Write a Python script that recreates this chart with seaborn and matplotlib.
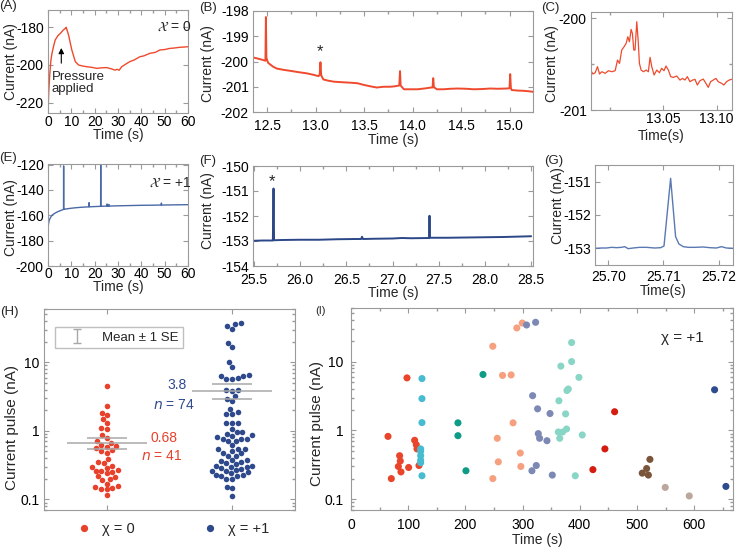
import numpy as np
import pandas as pd
import matplotlib
matplotlib.use("Agg")
import matplotlib.pyplot as plt
import seaborn as sns
from matplotlib.lines import Line2D
from matplotlib.collections import LineCollection
from matplotlib.container import ErrorbarContainer
from matplotlib.ticker import MultipleLocator, FormatStrFormatter, NullFormatter, FixedLocator

# ---------------- data ----------------
# (A) chi = 0, long trace
A_time = [0, 0.3, 0.7, 1.2, 1.7, 2.5, 3.1, 4.2, 5.3, 6.5, 7.5, 7.8, 8.8, 10.2, 11.7, 13.1, 15, 16.6,
          19, 20.9, 23, 25.2, 27, 28.7, 29.7, 30.5, 31.6, 33, 35.1, 37, 39.4, 41, 43.7, 46, 48, 50,
          52.2, 54, 56.5, 58, 60]
A_curr = [-225, -215, -206, -198, -193.8, -189.5, -186.7, -184.5, -183.2, -181.5, -180.5, -180,
          -184, -192, -198.2, -200, -200.6, -200.9, -201.3, -201.8, -201.5, -201.4, -202, -202.7,
          -202.3, -202.8, -200.9, -199.8, -198.2, -197.3, -195.6, -195.2, -193.8, -193.3, -192,
          -191.8, -191.2, -191, -190.6, -190.5, -190.3]

# (B) chi = 0, zoom
B_time = [12.356, 12.40, 12.44, 12.483, 12.488, 12.493, 12.51, 12.56, 12.60, 12.67, 12.74, 12.82,
          12.91, 12.97, 13.03, 13.042, 13.05, 13.058, 13.08, 13.13, 13.19, 13.27, 13.36, 13.43,
          13.50, 13.56, 13.63, 13.70, 13.77, 13.82, 13.862, 13.870, 13.876, 13.91, 13.98, 14.05,
          14.12, 14.19, 14.205, 14.212, 14.219, 14.25, 14.32, 14.39, 14.46, 14.55, 14.63, 14.72,
          14.80, 14.88, 14.97, 14.998, 15.005, 15.012, 15.02, 15.08, 15.14, 15.20, 15.24]
B_curr = [-199.84, -199.88, -199.92, -199.97, -198.24, -199.85, -200.05, -200.2, -200.28, -200.33,
          -200.37, -200.42, -200.47, -200.52, -200.58, -200.52, -200.03, -200.55, -200.71, -200.76,
          -200.80, -200.82, -200.84, -200.86, -200.93, -200.98, -201.03, -201.0, -201.0, -200.98,
          -200.95, -200.38, -200.95, -201.1, -201.1, -201.1, -201.07, -201.03, -201.03, -200.66,
          -201.02, -201.1, -201.1, -201.08, -201.07, -201.08, -201.1, -201.09, -201.07, -201.08,
          -201.07, -201.06, -200.5, -201.05, -201.13, -201.15, -201.16, -201.18, -201.2]

# (C) chi = 0, single event
C_time = [12.9819, 12.9838, 12.9859, 12.9881, 12.9900, 12.9922, 12.9953, 12.9984, 13.0016, 13.0047,
          13.0069, 13.0088, 13.0109, 13.0131, 13.0150, 13.0166, 13.0181, 13.0197, 13.0209, 13.0222,
          13.0234, 13.0250, 13.0263, 13.0275, 13.0291, 13.0313, 13.0338, 13.0359, 13.0375, 13.0391,
          13.0413, 13.0438, 13.0463, 13.0484, 13.0506, 13.0525, 13.0547, 13.0569, 13.0594, 13.0625,
          13.0656, 13.0681, 13.0703, 13.0725, 13.0750, 13.0775, 13.0797, 13.0819, 13.0844, 13.0875,
          13.0900, 13.0922, 13.0944, 13.0969, 13.0994, 13.1016, 13.1047, 13.1069, 13.1094, 13.1119,
          13.1141]
C_curr = [-200.571, -200.607, -200.593, -200.527, -200.607, -200.582, -200.600, -200.571, -200.582,
          -200.571, -200.455, -200.491, -200.345, -200.309, -200.273, -200.200, -200.255, -200.120,
          -200.164, -200.345, -200.345, -200.036, -200.236, -200.491, -200.564, -200.582, -200.564,
          -200.582, -200.425, -200.527, -200.618, -200.564, -200.593, -200.545, -200.571, -200.520,
          -200.564, -200.636, -200.644, -200.629, -200.673, -200.655, -200.673, -200.636, -200.691,
          -200.673, -200.665, -200.727, -200.680, -200.662, -200.709, -200.753, -200.691, -200.673,
          -200.655, -200.691, -200.709, -200.727, -200.691, -200.673, -200.665]

# (E) chi = +1, long trace
E_time = [0, 0.2, 0.5, 1, 1.5, 2, 3, 4, 5, 6, 6.65, 6.7, 6.75, 8, 10, 12, 14, 17.5, 17.6, 17.7, 20,
          22.55, 22.6, 22.65, 25.2, 25.3, 25.4, 26, 26.1, 26.2, 30, 35, 40, 45, 48.5, 48.6, 48.7,
          52, 56, 60]
E_curr = [-172, -167, -164, -162, -160.5, -159.5, -158.3, -157.3, -156.5, -155.8, -155.4, -121,
          -155.3, -154.9, -154.4, -154, -153.7, -153.3, -150, -153.3, -153.1, -152.9, -119.5,
          -152.9, -152.7, -151, -152.7, -152.7, -151.5, -152.7, -152.5, -152.3, -152.1, -152,
          -151.9, -150.3, -151.9, -151.8, -151.7, -151.6]

# (F) chi = +1, zoom
F_time = [25.5, 25.6, 25.705, 25.712, 25.718, 25.8, 26.0, 26.2, 26.4, 26.6, 26.66, 26.67, 26.68,
          26.8, 27.0, 27.1, 27.2, 27.395, 27.40, 27.405, 27.6, 27.8, 28.0, 28.2, 28.4, 28.5]
F_curr = [-152.99, -152.98, -152.98, -150.9, -152.97, -152.96, -152.95, -152.95, -152.93, -152.92,
          -152.92, -152.83, -152.92, -152.91, -152.9, -152.88, -152.89, -152.88, -151.99, -152.87,
          -152.87, -152.86, -152.85, -152.84, -152.82, -152.81]

# (G) chi = +1, single event
G_time = [25.6976, 25.6988, 25.6997, 25.7006, 25.7015, 25.7024, 25.7030, 25.7036, 25.7045, 25.7057,
          25.7069, 25.7084, 25.7095, 25.7101, 25.7113, 25.7122, 25.7128, 25.7136, 25.7145, 25.7157,
          25.7172, 25.7184, 25.7196, 25.7205, 25.7214, 25.7226]
G_curr = [-153.00, -152.99, -152.99, -152.97, -152.98, -152.97, -152.95, -153.01, -152.99, -152.97,
          -152.97, -152.99, -152.98, -152.93, -150.90, -152.65, -152.87, -152.95, -152.97, -152.97,
          -152.96, -152.98, -152.99, -152.95, -152.99, -153.00]

# (H) chi = 0 current pulses (nA)
H_chi0 = [4.5, 2.3, 1.8, 1.7, 1.5, 1.3, 1.1, 1.05, 0.88, 0.78, 0.70, 0.66, 0.62, 0.60, 0.58, 0.56,
          0.53, 0.50, 0.48, 0.39, 0.35, 0.34, 0.31, 0.30, 0.29, 0.27, 0.26, 0.26, 0.25, 0.24, 0.22,
          0.21, 0.20, 0.19, 0.17, 0.155, 0.15, 0.145, 0.14, 0.14, 0.115]
H_chi1_extra = [0.48, 0.33]
H_groups = ["χ = 0", "χ = +1"]

# (I) chi = +1 pulses vs time, one list per series
I_t_red = [64.7, 70.5, 97.9, 82.8, 85.0, 86.2, 87.4, 100.8, 111.3, 114.2, 115.4, 118.9]
I_v_red = [0.82, 0.20, 5.8, 0.30, 0.43, 0.36, 0.25, 0.29, 0.72, 0.62, 0.54, 0.31]
I_t_cyan = [124.1, 124.1, 124.1, 121.8, 121.8, 121.8, 121.8, 121.8, 124.1]
I_v_cyan = [5.67, 2.9, 1.3, 0.54, 0.50, 0.43, 0.37, 0.34, 0.22]
I_t_teal = [230.8, 187.0, 187.0, 201.0]
I_v_teal = [6.5, 1.29, 0.84, 0.26]
I_t_salmon = [248.0, 299.5, 290.0, 265.0, 280.0, 283.4, 255.8, 257.6, 296.0, 297.0, 248.0]
I_v_salmon = [16.7, 36.3, 30.8, 6.3, 6.4, 1.29, 0.77, 0.35, 0.47, 0.30, 0.20]
I_t_slate = [307.0, 322.8, 317.6, 326.3, 348.0, 327.5, 329.8, 342.7, 316.4, 324.0, 352.0]
I_v_slate = [34.0, 37.2, 3.2, 2.06, 1.76, 0.90, 0.77, 0.71, 0.26, 0.31, 0.225]
I_t_aqua = [385.8, 385.8, 367.0, 398.6, 380.0, 377.6, 363.6, 375.3, 377.0, 362.5, 370.0, 365.0,
            404.4, 392.2]
I_v_aqua = [18.9, 10.0, 8.6, 5.9, 4.0, 3.8, 2.7, 1.74, 1.05, 0.95, 0.95, 0.77, 0.86, 0.22]
I_t_crimson = [423.0, 444.0, 461.0]
I_v_crimson = [0.27, 0.54, 1.87]
I_t_brown = [509.3, 517.0, 520.0, 522.7]
I_v_brown = [0.24, 0.28, 0.225, 0.38]
I_t_tan = [549.5, 591.5]
I_v_tan = [0.149, 0.112]
I_t_navy = [635.8, 655.6]
I_v_navy = [3.9, 0.154]

I_names = ["s1", "s2", "s3", "s4", "s5", "s6", "s7", "s8", "s9", "s10"]
I_colors = ["#e9452b", "#47bcd0", "#0e9c86", "#f6a080", "#7d89b5",
            "#8ad6c6", "#d41c10", "#7b5539", "#bba79e", "#2e4b8e"]

RED = "#ef4a2e"
GRAY = "#a8a8a8"
FRAME = "#9a9a9a"
H_colors = ["#e8412c", "#2f4a8c"]

# ---------------- style ----------------
sns.set_theme(style="ticks")
plt.rcParams["font.family"] = ["Liberation Sans", "DejaVu Sans"]
plt.rcParams.update({
    "axes.edgecolor": FRAME, "axes.linewidth": 0.8,
    "xtick.direction": "in", "ytick.direction": "in",
    "xtick.top": True, "ytick.right": True,
    "xtick.color": FRAME, "ytick.color": FRAME,
    "xtick.labelcolor": "black", "ytick.labelcolor": "black",
    "xtick.labelsize": 10, "ytick.labelsize": 10,
    "xtick.major.size": 3.5, "ytick.major.size": 3.5,
    "xtick.minor.size": 2, "ytick.minor.size": 2,
    "xtick.major.width": 0.8, "ytick.major.width": 0.8,
    "xtick.major.pad": 2.5, "ytick.major.pad": 3.0,
    "axes.unicode_minus": False,
    "mathtext.fontset": "dejavusans",
})

W, HH = 738, 549
fig = plt.figure(figsize=(W / 100, HH / 100), dpi=100)


def add_ax(l, t, r, b):
    return fig.add_axes([l / W, 1 - b / HH, (r - l) / W, (b - t) / HH])


def ftext(x, y, s, **kw):
    kw.setdefault("ha", "center")
    kw.setdefault("va", "center")
    fig.text(x / W, 1 - y / HH, s, **kw)


axA = add_ax(48, 10, 188, 113)
axB = add_ax(253, 11, 533, 112)
axC = add_ax(591, 12, 732, 110)
axE = add_ax(48, 164, 188, 266)
axF = add_ax(253, 166, 533, 266)
axG = add_ax(595, 165, 733, 265)
axH = add_ax(44, 309, 295, 510)
axI = add_ax(351, 308, 733, 510)


def line(ax, x, y, color, lw):
    sns.lineplot(x=x, y=y, ax=ax, color=color, lw=lw, estimator=None, sort=False)
    ax.set_xlabel("")
    ax.set_ylabel("")


# (A)
line(axA, A_time, A_curr, RED, 1.0)
axA.set_xlim(0, 60)
axA.set_ylim(-225.5, -170.8)
axA.xaxis.set_major_locator(MultipleLocator(10))
axA.xaxis.set_minor_locator(MultipleLocator(5))
axA.set_yticks([-220, -200, -180])
axA.tick_params(axis="x", which="major", pad=1.5)
axA.text(0.78, 0.835, r"$\mathcal{X}$ = 0", transform=axA.transAxes, fontsize=10, va="center")
axA.annotate("", xy=(5.7, -189.5), xytext=(5.7, -200.5),
             arrowprops=dict(arrowstyle="-|>", color="black", lw=0.8, mutation_scale=8))
axA.text(1.7, -206.4, "Pressure", fontsize=9.5, va="center")
axA.text(1.7, -213.0, "applied", fontsize=9.5, va="center")

# (B)
line(axB, B_time, B_curr, RED, 1.4)
axB.set_xlim(12.355, 15.24)
axB.set_ylim(-202, -198)
axB.xaxis.set_major_locator(MultipleLocator(0.5))
axB.xaxis.set_minor_locator(MultipleLocator(0.25))
axB.xaxis.set_major_formatter(FormatStrFormatter("%.1f"))
axB.yaxis.set_major_locator(MultipleLocator(1))
axB.tick_params(axis="x", which="major", pad=5.0)
axB.text(13.05, -199.62, "*", fontsize=12, ha="center", va="center")

# (C)
line(axC, C_time, C_curr, RED, 0.9)
axC.set_xlim(12.982, 13.1145)
axC.set_ylim(-201, -199.93)
axC.xaxis.set_major_locator(FixedLocator([13.05, 13.10]))
axC.xaxis.set_minor_locator(FixedLocator([13.00]))
axC.xaxis.set_major_formatter(FormatStrFormatter("%.2f"))
axC.yaxis.set_major_locator(FixedLocator([-201, -200]))
axC.yaxis.set_minor_locator(FixedLocator([-200.5]))
axC.yaxis.set_major_formatter(FormatStrFormatter("%d"))
axC.tick_params(axis="x", which="major", pad=1.5)

# (E)
line(axE, E_time, E_curr, "#4a6aa6", 1.0)
axE.set_xlim(0, 60)
axE.set_ylim(-200, -119.5)
axE.xaxis.set_major_locator(MultipleLocator(10))
axE.xaxis.set_minor_locator(MultipleLocator(5))
axE.set_yticks([-200, -180, -160, -140, -120])
axE.tick_params(axis="x", which="major", pad=0.5)
axE.text(0.72, 0.817, r"$\mathcal{X}$ = +1", transform=axE.transAxes, fontsize=10, va="center")

# (F)
line(axF, F_time, F_curr, "#2b4787", 1.4)
axF.set_xlim(25.49, 28.52)
axF.set_ylim(-154, -150)
axF.xaxis.set_major_locator(MultipleLocator(0.5))
axF.xaxis.set_minor_locator(MultipleLocator(0.25))
axF.xaxis.set_major_formatter(FormatStrFormatter("%.1f"))
axF.yaxis.set_major_locator(MultipleLocator(1))
axF.tick_params(axis="x", which="major", pad=5.0)
axF.text(25.70, -150.62, "*", fontsize=12, ha="center", va="center")

# (G)
line(axG, G_time, G_curr, "#5a78b2", 1.0)
axG.set_xlim(25.6976, 25.7226)
axG.set_ylim(-153.5, -150.5)
axG.xaxis.set_major_locator(FixedLocator([25.70, 25.71, 25.72]))
axG.xaxis.set_major_formatter(FormatStrFormatter("%.2f"))
axG.yaxis.set_major_locator(FixedLocator([-153, -152, -151]))
axG.yaxis.set_major_formatter(FormatStrFormatter("%d"))
axG.tick_params(axis="x", which="major", pad=3.5)

# (I)
I_t = [I_t_red, I_t_cyan, I_t_teal, I_t_salmon, I_t_slate, I_t_aqua, I_t_crimson, I_t_brown,
       I_t_tan, I_t_navy]
I_v = [I_v_red, I_v_cyan, I_v_teal, I_v_salmon, I_v_slate, I_v_aqua, I_v_crimson, I_v_brown,
       I_v_tan, I_v_navy]
dfI = pd.DataFrame({
    "time": np.concatenate(I_t),
    "pulse": np.concatenate(I_v),
    "series": np.concatenate([[n] * len(t) for n, t in zip(I_names, I_t)]),
})
axI.set_yscale("log")
sns.scatterplot(data=dfI, x="time", y="pulse", hue="series", hue_order=I_names,
                palette=I_colors, s=26, linewidth=0, legend=False, ax=axI, clip_on=False)
axI.set_xlim(0, 668)
axI.set_ylim(0.07, 60)
axI.xaxis.set_major_locator(MultipleLocator(100))
axI.xaxis.set_minor_locator(MultipleLocator(50))
axI.set_yticks([0.1, 1, 10])
axI.set_yticklabels(["0.1", "1", "10"])
axI.yaxis.set_minor_formatter(NullFormatter())
axI.tick_params(axis="both", which="major", pad=5.5)
axI.set_xlabel("")
axI.set_ylabel("")
axI.text(580, 21.8, "χ = +1", fontsize=11, ha="center", va="center")

# (H)
H_chi1 = list(np.concatenate(I_v)) + H_chi1_extra
dfH = pd.DataFrame({
    "group": [H_groups[0]] * len(H_chi0) + [H_groups[1]] * len(H_chi1),
    "slot": [0] * len(H_chi0) + [1] * len(H_chi1),
    "pulse": H_chi0 + H_chi1,
})
axH.set_yscale("log")
axH.set_xlim(-0.5, 1.5)
axH.set_ylim(0.07, 60)
for grp, col in zip(H_groups, H_colors):
    sub = dfH[dfH["group"] == grp]
    sns.swarmplot(data=sub, x="slot", y="pulse", native_scale=True, color=col,
                  size=4.0, linewidth=0, ax=axH, zorder=3)
axH.set_xlim(-0.5, 1.5)
axH.set_ylim(0.07, 60)
axH.set_yticks([0.1, 1, 10])
axH.set_yticklabels(["0.1", "1", "10"])
axH.yaxis.set_minor_formatter(NullFormatter())
axH.xaxis.set_major_locator(FixedLocator([0, 1]))
axH.xaxis.set_minor_locator(FixedLocator([]))
axH.xaxis.set_major_formatter(NullFormatter())
axH.set_xlabel("")
axH.set_ylabel("")
for pos, vals in enumerate([H_chi0, H_chi1]):
    v = np.asarray(vals)
    m = v.mean()
    se = v.std(ddof=1) / np.sqrt(len(v))
    axH.hlines(m, pos - 0.32, pos + 0.32, color=GRAY, lw=1.1, zorder=5)
    axH.hlines([m - se, m + se], pos - 0.16, pos + 0.16, color=GRAY, lw=1.1, zorder=5)
axH.text(0.46, 0.79, "0.68", color=H_colors[0], fontsize=10, ha="center", va="center")
axH.text(0.44, 0.434, "$n$ = 41", color=H_colors[0], fontsize=10, ha="center", va="center")
axH.text(0.64, 4.69, "3.8", color=H_colors[1], fontsize=10, ha="right", va="center")
axH.text(0.70, 2.41, "$n$ = 74", color=H_colors[1], fontsize=10, ha="right", va="center")

cap = Line2D([], [], marker="_", color=GRAY, ls="none", markersize=6, markeredgewidth=1)
bar = LineCollection([], colors=GRAY, linewidths=1)
eb_handle = ErrorbarContainer((None, (cap, cap), (bar,)), has_xerr=False, has_yerr=True)
axH.legend([eb_handle], ["Mean ± 1 SE"], loc="upper left", bbox_to_anchor=(0.044, 0.912),
           borderaxespad=0, frameon=True, fancybox=False, edgecolor="#b0b0b0",
           fontsize=9.5, handlelength=2.6, handletextpad=0.6, borderpad=0.35)

leg_handles = [Line2D([], [], marker="o", ls="none", color=c, markersize=4.2) for c in H_colors]
fig.legend(leg_handles, H_groups, loc="center", bbox_to_anchor=(171 / W, 1 - 529 / HH),
           ncol=2, frameon=False, fontsize=10.5, handlelength=1.5, handletextpad=0.5,
           columnspacing=4.4)

# ---------------- labels ----------------
for x, y, s in [(8, 6, "(A)"), (208, 8, "(B)"), (550, 8, "(C)"), (8, 158, "(E)"),
                (208, 161, "(F)"), (554, 161, "(G)"), (9, 312, "(H)")]:
    ftext(x, y, s, fontsize=9.5)
ftext(320, 311, "(I)", fontsize=8)

for x, y in [(11, 62), (208, 64), (552, 64), (11, 218), (208, 211), (558, 206)]:
    ftext(x, y, "Current (nA)", rotation=90, fontsize=10)
ftext(12, 428, "Current pulse (nA)", rotation=90, fontsize=11)
ftext(317, 423, "Current pulse (nA)", rotation=90, fontsize=11)

for x, y, s in [(118, 135, "Time (s)"), (393, 140, "Time (s)"), (661, 136, "Time(s)"),
                (118, 287, "Time (s)"), (393, 293, "Time (s)"), (663, 291, "Time(s)"),
                (537, 540, "Time (s)")]:
    ftext(x, y, s, fontsize=10)

fig.savefig("out.png", dpi=100)
